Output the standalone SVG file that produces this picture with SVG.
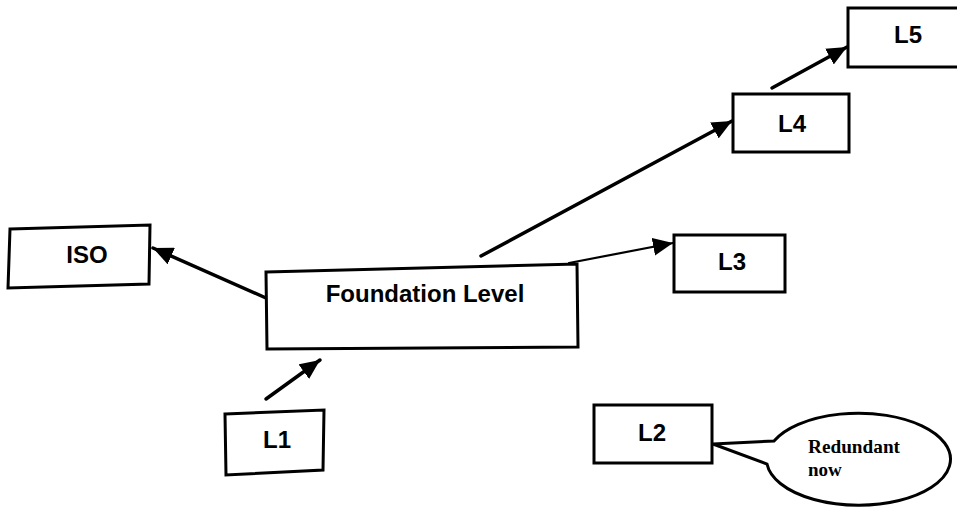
<svg xmlns="http://www.w3.org/2000/svg" width="957" height="510" viewBox="0 0 957 510">
  <style>
    .box { fill: #ffffff; stroke: #000000; stroke-width: 3; stroke-linejoin: miter; }
    .lbl { font-family: "Liberation Sans", Arial, sans-serif; font-weight: bold; font-size: 24px; fill: #000000; text-anchor: middle; }
    .note { font-family: "Liberation Serif", "Times New Roman", serif; font-weight: bold; font-size: 19px; fill: #000000; }
    .link { fill: none; stroke: #000000; stroke-width: 3.5; stroke-linecap: round; }
    .thin { stroke-width: 2.2; }
  </style>
  <defs>
    <marker id="head" markerUnits="userSpaceOnUse" markerWidth="22" markerHeight="18" refX="20" refY="9" orient="auto">
      <path d="M0,0 L20,9 L0,18 Z" fill="#000000"/>
    </marker>
  </defs>
  <rect width="957" height="510" fill="#ffffff"/>

  <!-- connectors -->
  <g id="connectors">
    <line class="link" x1="266" y1="298" x2="153" y2="248" marker-end="url(#head)"/>
    <line class="link" x1="266" y1="399" x2="320" y2="360" marker-end="url(#head)"/>
    <line class="link thin" x1="569" y1="263" x2="673" y2="243" marker-end="url(#head)"/>
    <line class="link" x1="481" y1="256" x2="732" y2="121" marker-end="url(#head)"/>
    <line class="link" x1="772" y1="88" x2="847" y2="47" marker-end="url(#head)"/>
  </g>

  <!-- nodes -->
  <g id="iso">
    <polygon class="box" points="10,229 150,225 149,284 8,288"/>
    <text class="lbl" x="87" y="263">ISO</text>
  </g>

  <g id="foundation">
    <polygon class="box" points="266,272 577,264 578,347 267,349"/>
    <text class="lbl" x="425" y="302">Foundation Level</text>
  </g>

  <g id="l1">
    <polygon class="box" points="225,414 324,410 323,470 226,475"/>
    <text class="lbl" x="277" y="448">L1</text>
  </g>

  <g id="l2">
    <rect class="box" x="594" y="405" width="118" height="58"/>
    <text class="lbl" x="652" y="441">L2</text>
  </g>

  <g id="l3">
    <rect class="box" x="674" y="235" width="111" height="57"/>
    <text class="lbl" x="732" y="270">L3</text>
  </g>

  <g id="l4">
    <rect class="box" x="733" y="94" width="116" height="58"/>
    <text class="lbl" x="792" y="132">L4</text>
  </g>

  <g id="l5">
    <rect class="box" x="848" y="8" width="112" height="59"/>
    <text class="lbl" x="908" y="43">L5</text>
  </g>

  <!-- callout bubble attached to L2 -->
  <g id="callout">
    <path class="box" d="M774,441 A92,46 0 1 1 767,464 L713,444 Z" stroke-width="2.5"/>
    <text class="note" x="808" y="453" textLength="92" lengthAdjust="spacingAndGlyphs">Redundant</text>
    <text class="note" x="808" y="476">now</text>
  </g>
</svg>
